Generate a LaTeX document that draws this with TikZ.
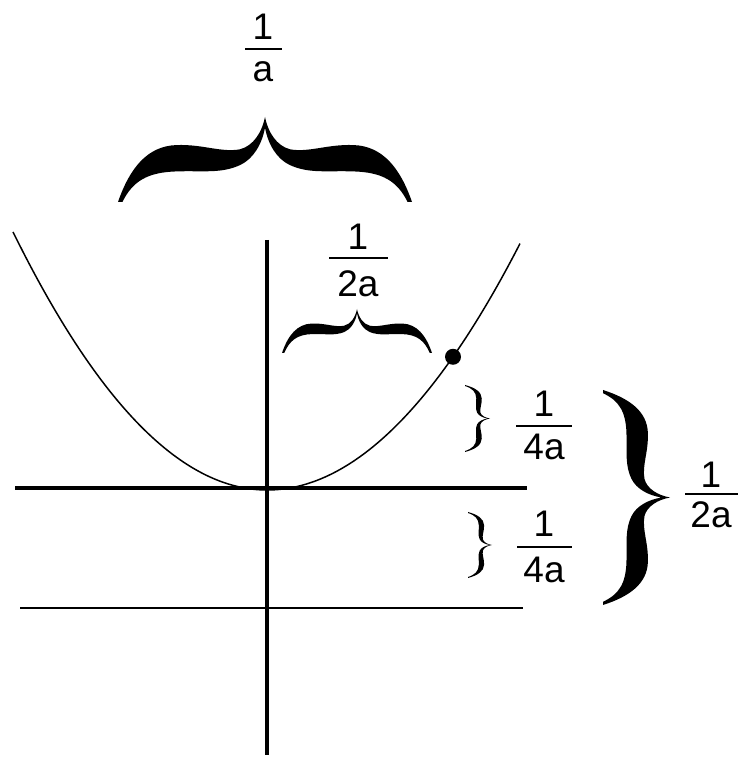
\documentclass[tikz,border=0pt]{standalone}
\usepackage{fontspec}
\setmainfont{Liberation Sans}
\newcommand\fillbrace[4]{%
 \begin{scope}[shift={#1}, x={#2}, y={#3}]
  \fill (-1,0) .. controls (-0.92,0.4) and (-0.8,0.66) .. (-0.6,0.67)
   .. controls (-0.42,0.68) and (-0.3,0.58) .. (-0.17,0.62)
   .. controls (-0.08,0.66) and (-0.02,0.82) .. (0,1)
   .. controls (0.02,0.82) and (0.08,0.66) .. (0.17,0.62)
   .. controls (0.3,0.58) and (0.42,0.68) .. (0.6,0.67)
   .. controls (0.8,0.66) and (0.92,0.4) .. (1,0)
   -- (0.97,0)
   .. controls (0.9,{0.4-0.5*#4}) and (0.8,{0.66-#4}) .. (0.6,{0.67-#4})
   .. controls (0.42,{0.68-#4}) and (0.3,{0.58-0.8*#4}) .. (0.17,{0.62-0.6*#4})
   .. controls (0.08,{0.66-0.5*#4}) and (0.02,{0.82-0.45*#4}) .. (0,{1-0.4*#4})
   .. controls (-0.02,{0.82-0.45*#4}) and (-0.08,{0.66-0.5*#4}) .. (-0.17,{0.62-0.6*#4})
   .. controls (-0.3,{0.58-0.8*#4}) and (-0.42,{0.68-#4}) .. (-0.6,{0.67-#4})
   .. controls (-0.8,{0.66-#4}) and (-0.9,{0.4-0.5*#4}) .. (-0.97,0)
   -- cycle;
 \end{scope}}
\begin{document}
\begin{tikzpicture}[x=1pt,y=1pt,
  lab/.style={font=\fontsize{37}{40}\selectfont, inner sep=0pt, anchor=base},
  bar/.style={line width=2pt},
  thickline/.style={line width=4.5pt},
  curve/.style={line width=1.5pt}]
\useasboundingbox (0,0) rectangle (738,757);
% parabola
\draw[curve] plot[domain=-254:0, samples=80] ({267+\x},{267+1.024*(\x/16)*(\x/16)});
\draw[curve] plot[domain=0:253, samples=80] ({267+\x},{267+0.9856*(\x/16)*(\x/16)});
% lines
\coordinate (al) at (15,269); \coordinate (ar) at (527,269);
\coordinate (dl) at (20,149); \coordinate (dr) at (523,149);
\coordinate (yt) at (267,517); \coordinate (yb) at (267,2);
\draw[thickline] (al) -- (ar);
\draw[line width=2.5pt] (dl) -- (dr);
\draw[thickline] (yt) -- (yb);
% point
\fill (453,400.2) circle (8);
% braces
\fillbrace{(265,555)}{(147pt,0pt)}{(0pt,85pt)}{0.31}
\fillbrace{(357,404)}{(75pt,0pt)}{(0pt,44pt)}{0.24}
\fillbrace{(465,338.5)}{(0pt,33.5pt)}{(25pt,0pt)}{0.22}
\fillbrace{(468,212)}{(0pt,33pt)}{(24pt,0pt)}{0.22}
\fillbrace{(603,259.5)}{(0pt,107.5pt)}{(67pt,0pt)}{0.32}
% labels
\node[lab] (n1) at (263,717) {1};
\node[lab] (d1) at (263,675) {a};
\draw[bar] (245,708) -- (282,708);
\node[lab] (n2) at (358,507) {1};
\node[lab] (d2) at (358,460) {2a};
\draw[bar] (329,499) -- (388,499);
\node[lab] (n3) at (544,340) {1};
\node[lab] (d3) at (544,297) {4a};
\draw[bar] (516,331) -- (572,331);
\node[lab] (n4) at (544,220) {1};
\node[lab] (d4) at (544,174) {4a};
\draw[bar] (517,210) -- (572,210);
\node[lab] (n5) at (711,269) {1};
\node[lab] (d5) at (711,229) {2a};
\draw[bar] (685,263) -- (738,263);
\end{tikzpicture}
\end{document}
